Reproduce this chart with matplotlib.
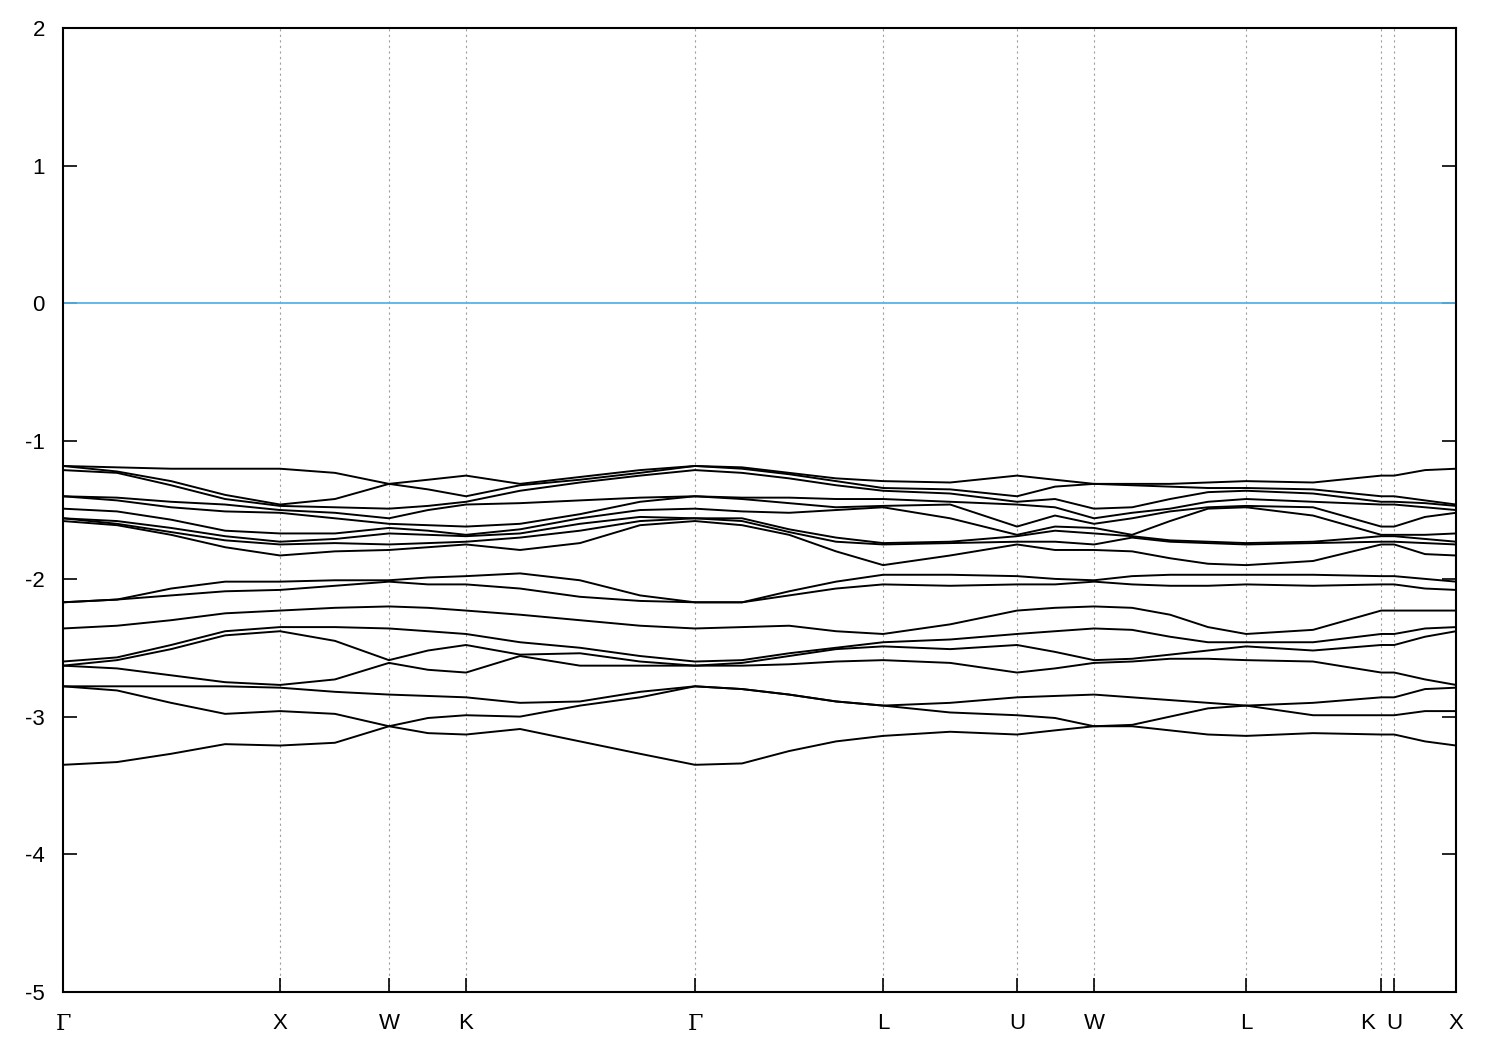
import numpy as np
import matplotlib
matplotlib.use('Agg')
import matplotlib.pyplot as plt
import matplotlib.transforms as mtransforms

plt.rcParams['font.family'] = ['Liberation Sans', 'DejaVu Sans']
plt.rcParams['axes.unicode_minus'] = False

# high-symmetry points on the path
sym_labels = ['Γ', 'X', 'W', 'K', 'Γ', 'L', 'U', 'W', 'L', 'K', 'U', 'X']
sym_k = [0.0, 1.0, 1.502, 1.857, 2.912, 3.779, 4.396, 4.751, 5.452, 6.074, 6.134, 6.419]

k = [0.0, 0.249, 0.498, 0.747, 1.0, 1.253, 1.502, 1.682, 1.857, 2.106,
     2.382, 2.659, 2.912, 3.129, 3.346, 3.562, 3.779, 4.088, 4.396, 4.571,
     4.751, 4.926, 5.101, 5.276, 5.452, 5.760, 6.074, 6.134, 6.276, 6.419]

# band energies (eV), highest band first
band01 = [-1.18, -1.19, -1.20, -1.20, -1.20, -1.23, -1.31, -1.28, -1.25, -1.31, -1.26, -1.21, -1.18, -1.19, -1.23,
          -1.27, -1.29, -1.30, -1.25, -1.28, -1.31, -1.31, -1.31, -1.30, -1.29, -1.30, -1.25, -1.25, -1.21, -1.20]
band02 = [-1.18, -1.22, -1.29, -1.39, -1.46, -1.42, -1.31, -1.35, -1.40, -1.32, -1.28, -1.23, -1.18, -1.20, -1.24,
          -1.29, -1.34, -1.35, -1.40, -1.33, -1.31, -1.32, -1.33, -1.34, -1.34, -1.35, -1.40, -1.40, -1.43, -1.46]
band03 = [-1.21, -1.23, -1.32, -1.42, -1.47, -1.48, -1.49, -1.47, -1.44, -1.36, -1.30, -1.25, -1.21, -1.23, -1.27,
          -1.32, -1.36, -1.38, -1.44, -1.42, -1.49, -1.48, -1.42, -1.37, -1.36, -1.38, -1.44, -1.44, -1.45, -1.47]
band04 = [-1.40, -1.41, -1.44, -1.46, -1.50, -1.52, -1.56, -1.50, -1.46, -1.45, -1.43, -1.41, -1.40, -1.41, -1.41,
          -1.42, -1.42, -1.44, -1.46, -1.48, -1.56, -1.52, -1.49, -1.44, -1.42, -1.44, -1.46, -1.46, -1.48, -1.50]
band05 = [-1.40, -1.43, -1.48, -1.51, -1.52, -1.56, -1.60, -1.61, -1.62, -1.60, -1.53, -1.44, -1.40, -1.42, -1.45,
          -1.48, -1.47, -1.46, -1.62, -1.54, -1.60, -1.56, -1.51, -1.48, -1.47, -1.48, -1.62, -1.62, -1.55, -1.52]
band06 = [-1.49, -1.51, -1.57, -1.65, -1.67, -1.67, -1.63, -1.65, -1.68, -1.64, -1.56, -1.50, -1.49, -1.51, -1.52,
          -1.50, -1.48, -1.56, -1.68, -1.62, -1.63, -1.68, -1.58, -1.49, -1.48, -1.54, -1.68, -1.68, -1.68, -1.67]
band07 = [-1.56, -1.58, -1.63, -1.69, -1.73, -1.71, -1.67, -1.68, -1.69, -1.67, -1.60, -1.55, -1.56, -1.56, -1.64,
          -1.70, -1.74, -1.73, -1.69, -1.65, -1.67, -1.69, -1.72, -1.73, -1.74, -1.73, -1.69, -1.69, -1.71, -1.73]
band08 = [-1.56, -1.60, -1.66, -1.72, -1.75, -1.74, -1.75, -1.74, -1.73, -1.70, -1.65, -1.58, -1.56, -1.58, -1.66,
          -1.73, -1.75, -1.74, -1.73, -1.73, -1.75, -1.70, -1.73, -1.74, -1.75, -1.74, -1.73, -1.73, -1.74, -1.75]
band09 = [-1.58, -1.61, -1.68, -1.77, -1.83, -1.80, -1.79, -1.77, -1.75, -1.79, -1.74, -1.61, -1.58, -1.61, -1.68,
          -1.80, -1.90, -1.83, -1.75, -1.79, -1.79, -1.80, -1.85, -1.89, -1.90, -1.87, -1.75, -1.75, -1.82, -1.83]
band10 = [-2.17, -2.15, -2.07, -2.02, -2.02, -2.01, -2.01, -1.99, -1.98, -1.96, -2.01, -2.12, -2.17, -2.17, -2.09,
          -2.02, -1.97, -1.97, -1.98, -2.00, -2.01, -1.98, -1.97, -1.97, -1.97, -1.97, -1.98, -1.98, -2.00, -2.02]
band11 = [-2.17, -2.15, -2.12, -2.09, -2.08, -2.05, -2.02, -2.04, -2.04, -2.07, -2.13, -2.16, -2.17, -2.17, -2.12,
          -2.07, -2.04, -2.05, -2.04, -2.04, -2.02, -2.04, -2.05, -2.05, -2.04, -2.05, -2.04, -2.04, -2.07, -2.08]
band12 = [-2.36, -2.34, -2.30, -2.25, -2.23, -2.21, -2.20, -2.21, -2.23, -2.26, -2.30, -2.34, -2.36, -2.35, -2.34,
          -2.38, -2.40, -2.33, -2.23, -2.21, -2.20, -2.21, -2.26, -2.35, -2.40, -2.37, -2.23, -2.23, -2.23, -2.23]
band13 = [-2.60, -2.57, -2.48, -2.38, -2.35, -2.35, -2.36, -2.38, -2.40, -2.46, -2.50, -2.56, -2.60, -2.59, -2.54,
          -2.50, -2.46, -2.44, -2.40, -2.38, -2.36, -2.37, -2.42, -2.46, -2.46, -2.46, -2.40, -2.40, -2.36, -2.35]
band14 = [-2.63, -2.59, -2.51, -2.41, -2.38, -2.45, -2.59, -2.52, -2.48, -2.55, -2.54, -2.60, -2.63, -2.61, -2.56,
          -2.51, -2.49, -2.51, -2.48, -2.53, -2.59, -2.58, -2.55, -2.52, -2.49, -2.52, -2.48, -2.48, -2.42, -2.38]
band15 = [-2.63, -2.65, -2.70, -2.75, -2.77, -2.73, -2.61, -2.66, -2.68, -2.56, -2.63, -2.63, -2.63, -2.63, -2.62,
          -2.60, -2.59, -2.61, -2.68, -2.65, -2.61, -2.60, -2.58, -2.58, -2.59, -2.60, -2.68, -2.68, -2.73, -2.77]
band16 = [-2.78, -2.78, -2.78, -2.78, -2.79, -2.82, -2.84, -2.85, -2.86, -2.90, -2.89, -2.82, -2.78, -2.80, -2.84,
          -2.89, -2.92, -2.90, -2.86, -2.85, -2.84, -2.86, -2.88, -2.90, -2.92, -2.90, -2.86, -2.86, -2.80, -2.79]
band17 = [-2.78, -2.81, -2.90, -2.98, -2.96, -2.98, -3.07, -3.01, -2.99, -3.00, -2.92, -2.86, -2.78, -2.80, -2.84,
          -2.89, -2.92, -2.97, -2.99, -3.01, -3.07, -3.06, -3.00, -2.94, -2.92, -2.99, -2.99, -2.99, -2.96, -2.96]
band18 = [-3.35, -3.33, -3.27, -3.20, -3.21, -3.19, -3.07, -3.12, -3.13, -3.09, -3.18, -3.27, -3.35, -3.34, -3.25,
          -3.18, -3.14, -3.11, -3.13, -3.10, -3.07, -3.07, -3.10, -3.13, -3.14, -3.12, -3.13, -3.13, -3.18, -3.21]

bands = [band01, band02, band03, band04, band05, band06, band07, band08, band09,
         band10, band11, band12, band13, band14, band15, band16, band17, band18]

yticks = [2, 1, 0, -1, -2, -3, -4, -5]

fig = plt.figure(figsize=(15, 10.5), dpi=100)
ax = fig.add_axes([0.042, 0.0552, 0.9287, 0.9181])

# vertical dotted lines at the inner high-symmetry points
for xk in sym_k[1:-1]:
    ax.axvline(xk, color='#a0a0a0', lw=0.8, ls=(0, (2, 3)), zorder=1)

# Fermi level
ax.axhline(0, color='#56b4e9', lw=1.3, zorder=2)

for b in bands:
    ax.plot(k, b, color='black', lw=1.4, zorder=3)

ax.set_xlim(sym_k[0], sym_k[-1])
ax.set_ylim(-5, 2)
ax.set_xticks(sym_k)
ax.set_xticklabels(sym_labels)
ax.set_yticks(yticks)
ax.set_yticklabels([str(v) for v in yticks])

ax.tick_params(axis='both', direction='in', length=10, width=1.2, labelsize=16)
ax.tick_params(axis='x', pad=15)
ax.tick_params(axis='y', pad=13, right=True)

labs = ax.get_xticklabels()
for i, lab in enumerate(labs):
    if lab.get_text() == 'Γ':
        lab.set_family(['DejaVu Serif'])
# K label of the K|U pair sits a bit left of its tick
shift = mtransforms.ScaledTranslation(-14 / 100, 0, fig.dpi_scale_trans)
labs[9].set_transform(labs[9].get_transform() + shift)

for s in ax.spines.values():
    s.set_linewidth(1.5)

fig.savefig('out.png', dpi=100)
